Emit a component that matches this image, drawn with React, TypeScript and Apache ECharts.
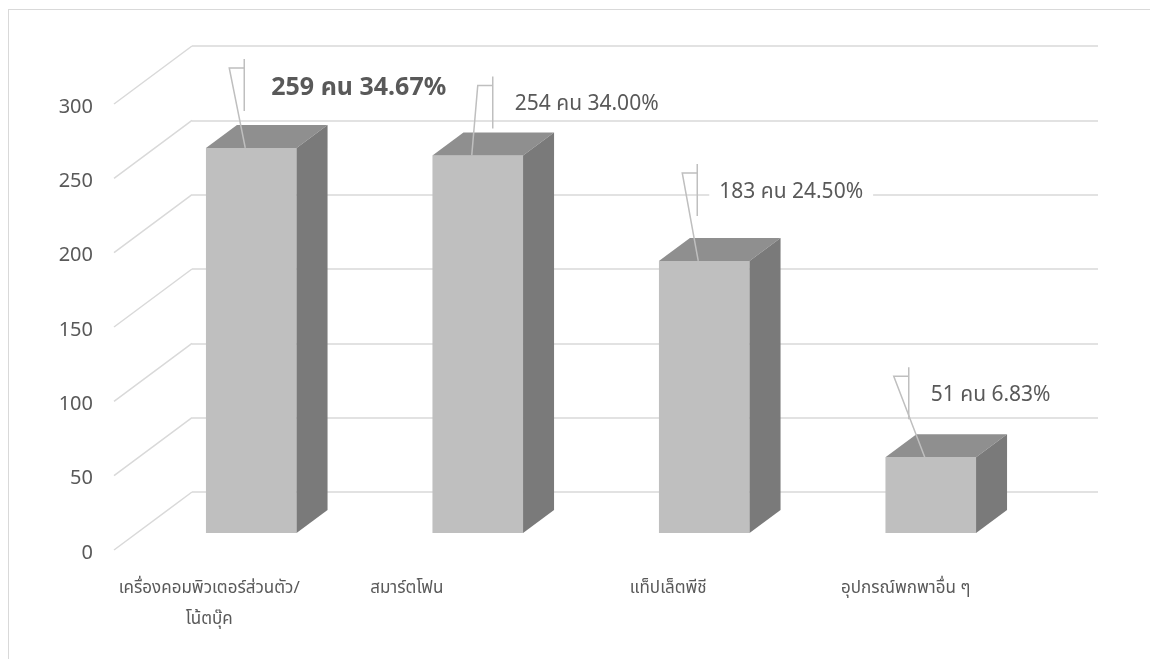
import React, { useEffect, useRef } from "react";
import * as echarts from "echarts";

// ---- data ----
const categories = [
  "เครื่องคอมพิวเตอร์ส่วนตัว/\nโน้ตบุ๊ค",
  "สมาร์ตโฟน",
  "แท็ปเล็ตพีชี",
  "อุปกรณ์พกพาอื่น ๆ",
];
const counts = [259, 254, 183, 51];
const percents = ["34.67%", "34.00%", "24.50%", "6.83%"];
const unit = "คน";
const yTicks = [0, 50, 100, 150, 200, 250, 300];

// ---- layout / style constants (not data) ----
const FONT = "'Noto Sans', 'Noto Sans Thai', Tahoma, sans-serif";
const TEXT = "#595959";
const GRID = "#d9d9d9";
const DEPTH = [78, -58]; // front plane -> back wall
const BAR_FRONT = [-54, 41]; // bar front face relative to back wall
const BAR_DEPTH = [31, -23];
const BAR_RATIO = 0.4;
// data-label placement relative to bar front-top centre (Excel hand-placed)
const LABEL_NUDGE = [
  [-7, -63],
  [15, -53],
  [-7, -71],
  [-22, -64],
];
const CAT_NUDGE = [-18, -47, -12, -1];

export default function App() {
  const ref = useRef<HTMLDivElement>(null);
  useEffect(() => {
    if (!ref.current) return;
    const chart = echarts.init(ref.current, undefined, { renderer: "svg" });
    const option: any = {
      animation: false,
      grid: { left: 192, right: 52, top: 46, bottom: 167 },
      xAxis: {
        type: "category",
        data: categories,
        axisLine: { show: false },
        axisTick: { show: false },
        axisLabel: { show: false },
        splitLine: { show: false },
      },
      yAxis: {
        type: "value",
        min: 0,
        max: 300,
        interval: 50,
        axisLine: { show: false },
        axisTick: { show: false },
        axisLabel: { show: false },
        splitLine: { lineStyle: { color: GRID, width: 1.5 } },
      },
      series: [
        {
          type: "custom",
          name: "walls",
          clip: false,
          silent: true,
          data: yTicks.map((v) => [0, v]),
          renderItem: (params: any, api: any) => {
            const v = api.value(1);
            const y = api.coord([0, v])[1];
            const x0 = params.coordSys.x;
            return {
              type: "group",
              children: [
                {
                  type: "line",
                  shape: { x1: x0, y1: y, x2: x0 - DEPTH[0], y2: y - DEPTH[1] },
                  style: { stroke: GRID, lineWidth: 1.5 },
                },
                {
                  type: "text",
                  x: x0 - DEPTH[0] - 21,
                  y: y - DEPTH[1] + 1,
                  style: {
                    text: String(v),
                    fill: TEXT,
                    fontSize: 20,
                    fontFamily: FONT,
                    align: "right",
                    verticalAlign: "middle",
                  },
                },
              ],
            };
          },
        },
        {
          type: "custom",
          name: "bars",
          clip: false,
          silent: true,
          data: counts.map((c, i) => [i, c]),
          renderItem: (params: any, api: any) => {
            const i = api.value(0);
            const v = api.value(1);
            const top = api.coord([i, v]);
            const base = api.coord([i, 0]);
            const w = api.size([1, 0])[0] * BAR_RATIO;
            const cx = top[0] + BAR_FRONT[0];
            const xl = cx - w / 2;
            const xr = cx + w / 2;
            const yt = top[1] + BAR_FRONT[1];
            const yb = base[1] + BAR_FRONT[1];
            const [dx, dy] = BAR_DEPTH;
            const [nx, ny] = LABEL_NUDGE[i];
            const vx = cx + nx;
            const vy = yt + ny;
            const sx = cx - 6;
            const big = i === 0;
            return {
              type: "group",
              children: [
                {
                  type: "rect",
                  shape: { x: xl, y: yt, width: w, height: yb - yt },
                  style: { fill: "#bfbfbf" },
                },
                {
                  type: "polygon",
                  shape: { points: [[xl, yt], [xr, yt], [xr + dx, yt + dy], [xl + dx, yt + dy]] },
                  style: { fill: "#8f8f8f" },
                },
                {
                  type: "polygon",
                  shape: { points: [[xr, yt], [xr + dx, yt + dy], [xr + dx, yb + dy], [xr, yb]] },
                  style: { fill: "#7a7a7a" },
                },
                {
                  type: "polyline",
                  shape: { points: [[sx, yt], [vx - 15, vy - 17], [vx, vy - 17]] },
                  style: { stroke: "#bfbfbf", lineWidth: 1.5, fill: "none" },
                },
                {
                  type: "text",
                  x: vx + (big ? 17 : 12),
                  y: vy,
                  z2: 5,
                  style: {
                    text: `${counts[i]} ${unit} ${percents[i]}`,
                    fill: TEXT,
                    fontSize: big ? 25 : 21,
                    fontWeight: big ? "bold" : "normal",
                    fontFamily: FONT,
                    align: "left",
                    verticalAlign: "middle",
                    backgroundColor: "#ffffff",
                    padding: [6, 10, 6, 10],
                  },
                },
                {
                  type: "line",
                  z2: 6,
                  shape: { x1: vx, y1: vy - 26, x2: vx, y2: vy + 26 },
                  style: { stroke: "#bfbfbf", lineWidth: 1.5 },
                },
              ],
            };
          },
        },
        {
          type: "custom",
          name: "categoryLabels",
          clip: false,
          silent: true,
          data: categories.map((c, i) => [i, 0]),
          renderItem: (params: any, api: any) => {
            const i = api.value(0);
            const p = api.coord([i, 0]);
            return {
              type: "text",
              x: p[0] - DEPTH[0] + CAT_NUDGE[i],
              y: p[1] - DEPTH[1] + 21,
              style: {
                text: categories[i],
                fill: TEXT,
                fontSize: 17,
                fontFamily: FONT,
                align: "center",
                verticalAlign: "top",
                lineHeight: 31,
              },
            };
          },
        },
      ],
    };
    chart.setOption(option);
    return () => chart.dispose();
  }, []);

  return (
    <>
      <div
        style={{
          position: "fixed",
          left: 8,
          top: 9,
          width: 1150,
          height: 660,
          borderLeft: "1px solid #d9d9d9",
          borderTop: "1px solid #d9d9d9",
          boxSizing: "border-box",
        }}
      />
      <div
        ref={ref}
        style={{ position: "fixed", left: 0, top: 0, width: 1150, height: 659 }}
      />
    </>
  );
}
